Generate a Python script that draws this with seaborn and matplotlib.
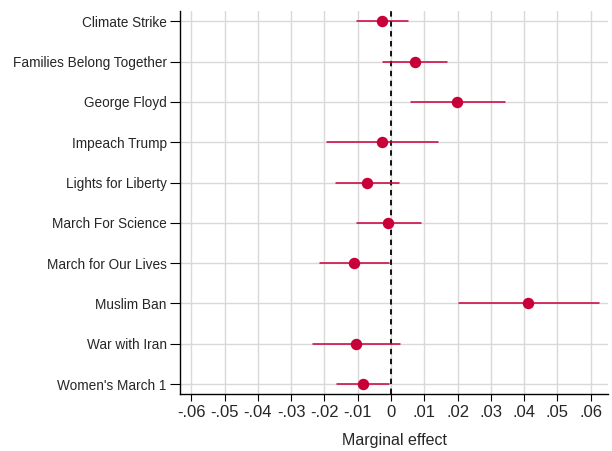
import matplotlib
matplotlib.use("Agg")
import matplotlib.pyplot as plt
import seaborn as sns
import pandas as pd
import numpy as np

categories = ["Climate Strike", "Families Belong Together", "George Floyd", "Impeach Trump",
              "Lights for Liberty", "March For Science", "March for Our Lives", "Muslim Ban",
              "War with Iran", "Women's March 1"]
estimate = [-0.0027, 0.0072, 0.0199, -0.0028, -0.0072, -0.0009, -0.0111, 0.0413, -0.0106, -0.0085]
ci_low = [-0.0103, -0.0023, 0.0060, -0.0192, -0.0164, -0.0103, -0.0212, 0.0205, -0.0233, -0.0161]
ci_high = [0.0052, 0.0169, 0.0342, 0.0140, 0.0023, 0.0089, -0.0006, 0.0626, 0.0026, -0.0007]
xticks = [-0.06, -0.05, -0.04, -0.03, -0.02, -0.01, 0, 0.01, 0.02, 0.03, 0.04, 0.05, 0.06]
xticklabels = ["-.06", "-.05", "-.04", "-.03", "-.02", "-.01", "0", ".01", ".02", ".03", ".04", ".05", ".06"]

rows = []
for c, e, lo, hi in zip(categories, estimate, ci_low, ci_high):
    for v in (lo, e, hi):
        rows.append({"event": c, "value": v})
df = pd.DataFrame(rows)

sns.set_theme(style="white")
plt.rcParams["font.family"] = ["Liberation Sans", "DejaVu Sans"]

color = "#C8003A"
fig = plt.figure(figsize=(6.12, 4.51), dpi=100)
ax = fig.add_axes([180/612, 1 - 394/451, (608-180)/612, (394-10.7)/451])

sns.pointplot(data=df, x="value", y="event", order=categories, estimator="median",
              errorbar=("pi", 100), linestyle="none", markers="o", markersize=6.2,
              color=color, err_kws={"linewidth": 1.1}, ax=ax, zorder=3)

ax.axvline(0, color="black", linestyle=(0, (3, 2.5)), linewidth=1.3, zorder=2)

ax.set_xlim(-0.0634, 0.0652)
ax.set_ylim(9.248, -0.263)
ax.set_xticks(xticks)
ax.set_xticklabels(xticklabels, fontsize=12)
ax.tick_params(axis="y", labelsize=9.8, length=7.5, width=0.8, color="black", pad=2, left=True)
ax.tick_params(axis="x", length=5, width=0.8, color="black", pad=3, bottom=True)
ax.set_axisbelow(True)
ax.grid(True, color="#D9D9D9", linewidth=1.0)
for s in ["top", "right"]:
    ax.spines[s].set_visible(False)
for s in ["left", "bottom"]:
    ax.spines[s].set_color("black")
    ax.spines[s].set_linewidth(1.0)
ax.set_ylabel("")
ax.set_xlabel("Marginal effect", fontsize=11.5, labelpad=9)

fig.savefig("out.png", dpi=100)
